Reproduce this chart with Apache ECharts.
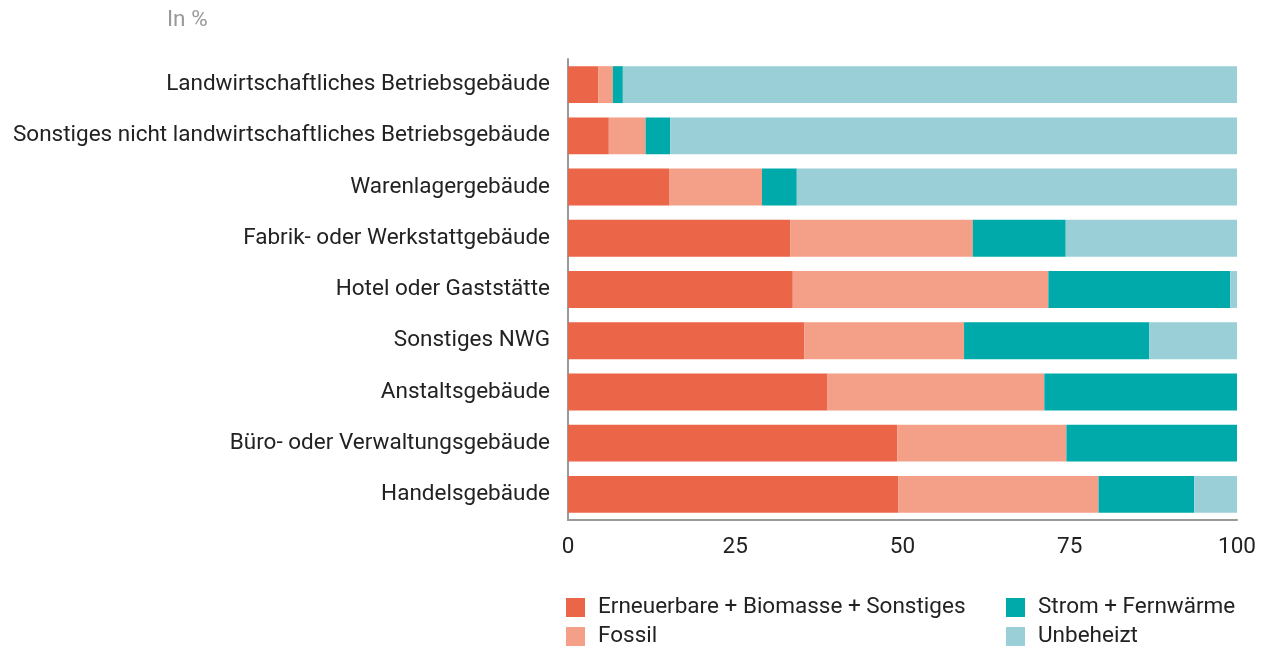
<!DOCTYPE html>
<html>
<head>
<meta charset="utf-8">
<script src="https://cdn.jsdelivr.net/npm/echarts@6/dist/echarts.min.js"></script>
<style>
html, body { margin: 0; padding: 0; background: #fff; }
#chart { width: 1262px; height: 650px; }
</style>
</head>
<body>
<div id="chart"></div>
<script>
const categories = [
    "Landwirtschaftliches Betriebsgebäude",
    "Sonstiges nicht landwirtschaftliches Betriebsgebäude",
    "Warenlagergebäude",
    "Fabrik- oder Werkstattgebäude",
    "Hotel oder Gaststätte",
    "Sonstiges NWG",
    "Anstaltsgebäude",
    "Büro- oder Verwaltungsgebäude",
    "Handelsgebäude"
];
const erneuerbare = [4.5, 6.1, 15.1, 33.2, 33.6, 35.3, 38.8, 49.2, 49.4];
const fossil = [2.2, 5.5, 13.9, 27.3, 38.2, 23.9, 32.4, 25.3, 29.9];
const strom = [1.5, 3.7, 5.2, 13.9, 27.2, 27.7, 28.8, 25.5, 14.3];
const unbeheizt = [91.8, 84.7, 65.8, 25.6, 1.0, 13.1, 0, 0, 6.4];
const xTicks = [0, 25, 50, 75, 100];

const fontFamily = "Roboto, sans-serif";
const fontSize = 22.5;
const chart = echarts.init(document.getElementById("chart"));

function bar(name, data, color) {
    return {
        name: name,
        type: "bar",
        stack: "total",
        barWidth: "72%",
        itemStyle: { color: color },
        data: data
    };
}

// one legend per entry so they sit in two columns like the original
function legendItem(name, left, top) {
    return {
        data: [name],
        left: left,
        top: top,
        itemWidth: 19,
        itemHeight: 19,
        icon: "rect",
        textStyle: { fontSize: fontSize, color: "#222", fontFamily: fontFamily, padding: [0, 0, 0, 8] }
    };
}

const option = {
    animation: false,
    textStyle: { fontFamily: fontFamily },
    title: {
        text: "In %",
        left: 162,
        top: 4,
        textStyle: { fontSize: fontSize, fontWeight: "normal", color: "#999", fontFamily: fontFamily }
    },
    legend: [
        legendItem("Erneuerbare + Biomasse + Sonstiges", 561, 591),
        legendItem("Fossil", 561, 620),
        legendItem("Strom + Fernwärme", 1001, 591),
        legendItem("Unbeheizt", 1001, 620)
    ],
    grid: { left: 568, right: 25, top: 59, bottom: 130 },
    xAxis: {
        type: "value",
        min: 0,
        max: 100,
        interval: 25,
        axisLine: { show: true, lineStyle: { color: "#999", width: 2 } },
        axisTick: { show: false },
        splitLine: { show: false },
        axisLabel: {
            fontSize: fontSize,
            color: "#222",
            margin: 16,
            formatter: function (v) { return xTicks.indexOf(v) >= 0 ? String(v) : ""; }
        }
    },
    yAxis: {
        type: "category",
        data: categories,
        inverse: true,
        axisLine: { show: true, lineStyle: { color: "#999", width: 2 } },
        axisTick: { show: false },
        axisLabel: { fontSize: fontSize, color: "#222", margin: 18 }
    },
    series: [
        bar("Erneuerbare + Biomasse + Sonstiges", erneuerbare, "#eb6548"),
        bar("Fossil", fossil, "#f4a088"),
        bar("Strom + Fernwärme", strom, "#00aaab"),
        bar("Unbeheizt", unbeheizt, "#9acfd8")
    ]
};
chart.setOption(option);
</script>
</body>
</html>
